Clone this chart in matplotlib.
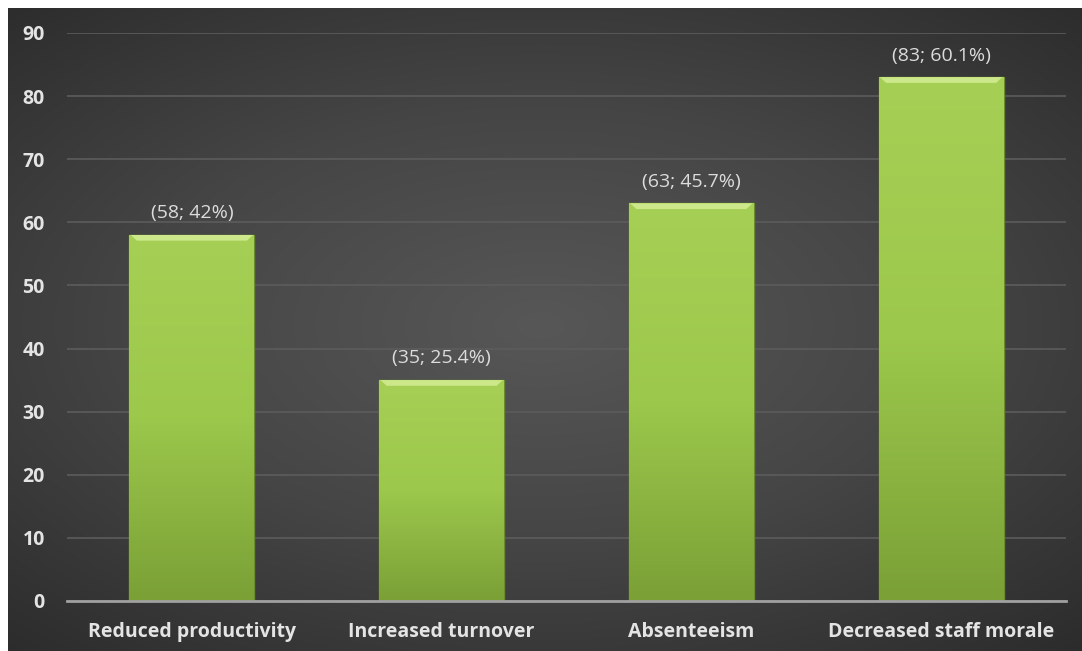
import numpy as np
import matplotlib as mpl
mpl.use('Agg')
import matplotlib.pyplot as plt
from matplotlib.colors import LinearSegmentedColormap
from matplotlib.patches import Rectangle

categories = ["Reduced productivity", "Increased turnover", "Absenteeism", "Decreased staff morale"]
counts = [58, 35, 63, 83]
percents = ["42%", "25.4%", "45.7%", "60.1%"]
yticks = [0, 10, 20, 30, 40, 50, 60, 70, 80, 90]

plt.rcParams['font.family'] = ['Open Sans', 'DejaVu Sans']
W, H = 1082, 651
fig = plt.figure(figsize=(W / 100, H / 100), dpi=100)
fig.patch.set_facecolor('#2c2c2c')

# radial dark background
bg = fig.add_axes([0, 0, 1, 1])
bg.set_axis_off()
yy, xx = np.mgrid[-1:1:300j, -1:1:500j]
r = np.sqrt((xx * 0.9) ** 2 + (yy * 1.0) ** 2)
bg_cmap = LinearSegmentedColormap.from_list('bg', ['#575757', '#454545', '#2c2c2c'])
bg.imshow(r, cmap=bg_cmap, aspect='auto', extent=[0, 1, 0, 1], vmin=0, vmax=1.35)
bg.set_xlim(0, 1)
bg.set_ylim(0, 1)
# white margin on top and left
fig.add_artist(Rectangle((0, 1 - 8 / H), 1, 8 / H, transform=fig.transFigure, color='white', lw=0))
fig.add_artist(Rectangle((0, 0), 8 / W, 1, transform=fig.transFigure, color='white', lw=0))

ax = fig.add_axes([67 / W, 50 / H, (1066 - 67) / W, (601 - 33) / H])
ax.set_facecolor('none')
x = np.arange(len(categories))
bars = ax.bar(x, counts, width=0.5, color='#93bf45', edgecolor='#6b8c2c', linewidth=1.0, zorder=3)

# vertical gradient inside each bar plus a light top bevel
grad = np.linspace(0, 1, 256).reshape(-1, 1)
bar_cmap = LinearSegmentedColormap.from_list('bar', ['#7aa036', '#9cc84c', '#a6d055'])
for b in bars:
    bx, bw, bh = b.get_x(), b.get_width(), b.get_height()
    im = ax.imshow(grad, cmap=bar_cmap, origin='lower', aspect='auto',
                   extent=[bx, bx + bw, 0, bh], zorder=3.5)
    im.set_clip_path(b)
    ax.fill([bx + 0.005, bx + bw - 0.005, bx + bw - 0.03, bx + 0.03],
            [bh, bh, bh - 0.9, bh - 0.9], color='#cde88a', zorder=4, lw=0)

for i, (c, p) in enumerate(zip(counts, percents)):
    ax.text(i, c + 2.0, f"({c}; {p})", ha='center', va='bottom', color='#dcdcdc', fontsize=14, zorder=5)

ax.set_xlim(-0.5, len(categories) - 0.5)
ax.set_ylim(0, 90)
ax.set_yticks(yticks)
ax.set_xticks(x)
ax.set_xticklabels(categories)
ax.grid(axis='y', color='#5c5c5c', linewidth=1.2, zorder=0)
for s in ['top', 'right', 'left']:
    ax.spines[s].set_visible(False)
ax.spines['bottom'].set_color('#a0a0a0')
ax.spines['bottom'].set_linewidth(2)
ax.spines['bottom'].set_zorder(6)
ax.tick_params(length=0, colors='#e4e4e4')
ax.tick_params(axis='y', pad=16, labelsize=14)
ax.tick_params(axis='x', pad=15, labelsize=14)
for lab in ax.get_xticklabels() + ax.get_yticklabels():
    lab.set_fontweight('bold')

fig.savefig('out.png', dpi=100, facecolor=fig.get_facecolor())
